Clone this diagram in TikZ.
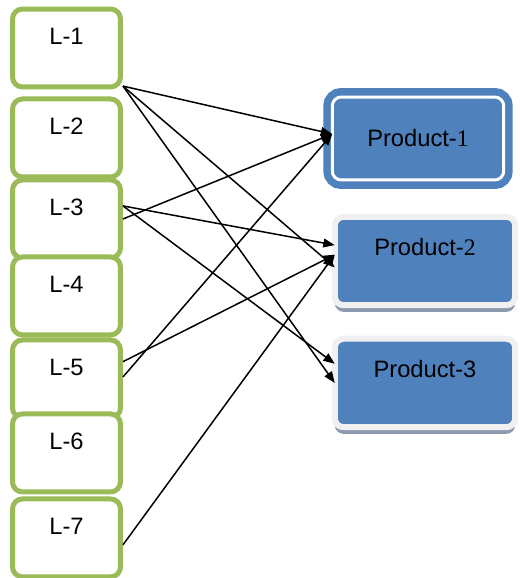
\documentclass[tikz,border=0pt]{standalone}
\usepackage{fontspec}
\setmainfont{Liberation Sans}
\newfontfamily\numfont{Liberation Serif}
\usepackage{xcolor}
\usepackage{tikz}
\usetikzlibrary{shapes,arrows,arrows.meta}
\usetikzlibrary{positioning}
\usetikzlibrary{shadows}
\definecolor{leafgreen}{HTML}{9BBB59}
\definecolor{prodblue}{HTML}{4F81BD}
\definecolor{rimgray}{HTML}{F0F0F0}
\definecolor{shadegray}{HTML}{8C9AAE}
\tikzstyle{level} = [rectangle, draw=leafgreen, line width=0.1cm, fill=white,
    rounded corners=0.2cm, minimum width=2.16cm, inner ysep=0pt,
    text height=0.71cm, text depth=0.85cm]
\tikzstyle{product} = [rectangle, fill=prodblue, rounded corners=0.18cm,
    minimum width=3.61cm, outer sep=0pt]
\tikzstyle{picked} = [product, draw=white, line width=0.06cm,
    minimum width=3.43cm, minimum height=1.66cm,
    preaction={draw=prodblue, line width=0.36cm}]
\tikzstyle{plain product} = [product, draw=rimgray, line width=0.12cm,
    inner ysep=0pt, text height=0.78cm, text depth=0.99cm,
    drop shadow={shadow xshift=0pt, shadow yshift=-3.8pt, fill=shadegray, opacity=1}]
\tikzstyle{line} = [draw, line width=0.03cm, -{Triangle[length=6.5pt, width=5pt]}]

\begin{document}
\begin{tikzpicture}[x=0.02cm, y=-0.02cm, every node/.style={font=\fontsize{13.5}{16}\selectfont}]
  \useasboundingbox (0,0) rectangle (520,578);
  % Place nodes
  \node [level] (l1) at (66.5,48) {L-1};
  \node [level, below=0.14cm of l1] (l2) {L-2};
  \node [level, below=-0.04cm of l2] (l3) {L-3};
  \node [level, below=-0.12cm of l3] (l4) {L-4};
  \node [level, below=0cm of l4] (l5) {L-5};
  \node [level, below=-0.18cm of l5] (l6) {L-6};
  \node [level, below=0.04cm of l6] (l7) {L-7};

  \node [picked] (p1) at (418,138.5) {Product-{\numfont 1}};
  \node [plain product] (p2) at (425,261) {Product-{\numfont 2}};
  \node [plain product, below=0.67cm of p2] (p3) {Product-3};

  % Draw edges
  \path [line] (l1.-34) -- (p1.177);
  \path [line] (l1.-34) -- (p2.184);
  \path [line] (l1.-34) -- (p3.180);
  \path [line] (l3.13) -- (p2.170);
  \path [line] (l3.13) -- (p3.168);
  \path [line] (l3.east) -- (p1.177);
  \path [line] (l5.17) -- (p2.176);
  \path [line] (l5.2) -- (p1.177);
  \path [line] (l7.-7) -- (p2.176);
\end{tikzpicture}
\end{document}
